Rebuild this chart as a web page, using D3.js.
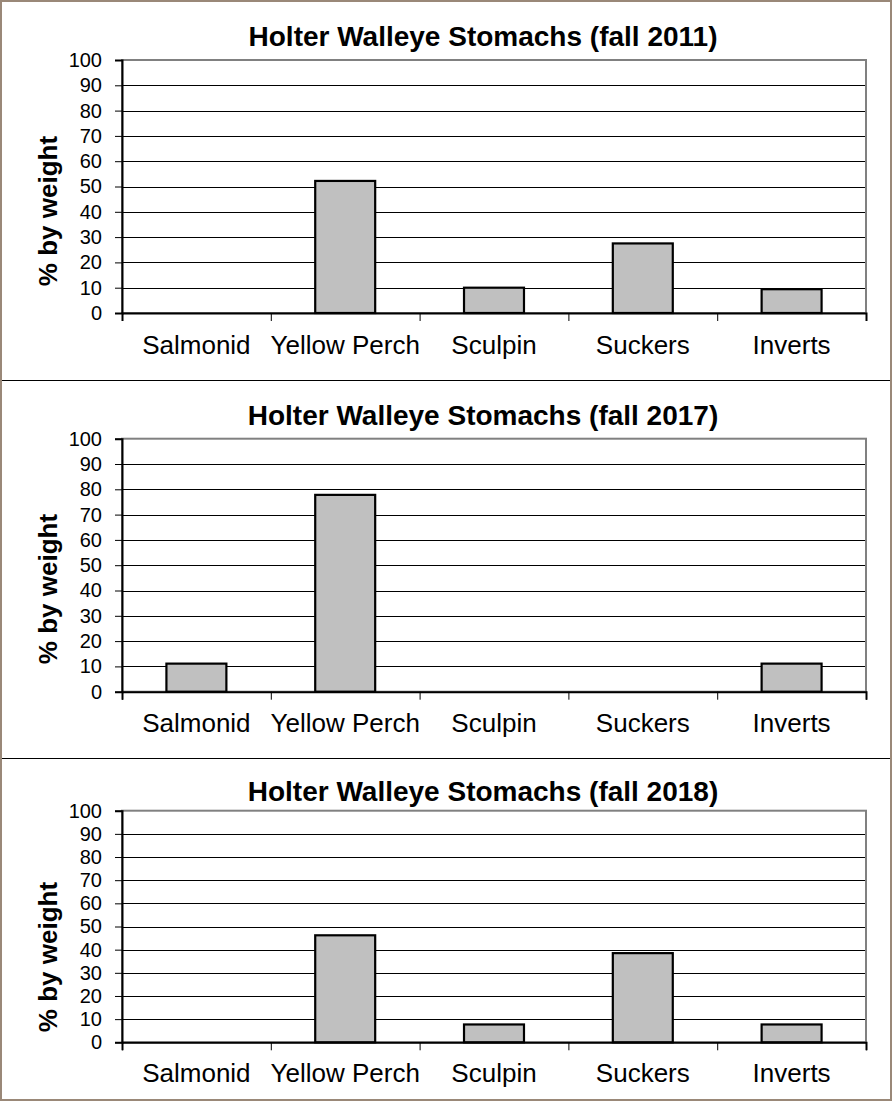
<!DOCTYPE html>
<html>
<head>
<meta charset="utf-8">
<script src="https://cdn.jsdelivr.net/npm/d3@7"></script>
<style>
  body { margin: 0; background: #fff; }
  svg text { font-family: "Liberation Sans", Arial, sans-serif; fill: #000; }
</style>
</head>
<body>
<script>
// data
var categories = ["Salmonid", "Yellow Perch", "Sculpin", "Suckers", "Inverts"]
var titles = ["Holter Walleye Stomachs (fall 2011)", "Holter Walleye Stomachs (fall 2017)", "Holter Walleye Stomachs (fall 2018)"]
var values2011 = [0, 52.2, 10.0, 27.5, 9.4]
var values2017 = [11.1, 77.8, 0, 0, 11.1]
var values2018 = [0, 46.2, 7.7, 38.5, 7.7]
var yTicks = [0, 10, 20, 30, 40, 50, 60, 70, 80, 90, 100]
var yTitle = "% by weight"

var width = 892, height = 1101

// each panel has its own vertical layout (last one is shorter)
var panels = [
    {title: titles[0], values: values2011, titleY: 46, top: 60, bottom: 313, labelY: 354, yTitleC: 211},
    {title: titles[1], values: values2017, titleY: 425, top: 438.7, bottom: 691.7, labelY: 731.7, yTitleC: 589},
    {title: titles[2], values: values2018, titleY: 800.7, top: 810.7, bottom: 1042.3, labelY: 1082.3, yTitleC: 957}
]
var left = 122, right = 866

var svg = d3.select("body").append("svg")
    .attr("width", width)
    .attr("height", height)

var xBand = d3.scaleBand().domain(categories).range([left, right])
    .paddingInner(0.597).paddingOuter(0.2985)
var xTick = d3.scaleLinear().domain([0, categories.length]).range([left, right])

panels.forEach(function(p) {
    var y = d3.scaleLinear().domain([0, 100]).range([p.bottom, p.top])
    var g = svg.append("g")

    // gridlines
    g.selectAll(".grid").data(yTicks.filter(function(d){ return d > 0 && d < 100 }))
        .enter().append("line")
        .attr("x1", left).attr("x2", right)
        .attr("y1", function(d){ return Math.round(y(d)) + 0.5 })
        .attr("y2", function(d){ return Math.round(y(d)) + 0.5 })
        .attr("stroke", "#000")
        .attr("stroke-width", 1)

    // plot area border
    g.append("rect")
        .attr("x", left).attr("y", y(100))
        .attr("width", right - left).attr("height", y(0) - y(100))
        .attr("fill", "none")
        .attr("stroke", "#808080")
        .attr("stroke-width", 2)

    // bars
    g.selectAll(".bar").data(p.values.map(function(v, i){ return {c: categories[i], v: v} })
            .filter(function(d){ return d.v > 0 }))
        .enter().append("rect")
        .attr("x", function(d){ return xBand(d.c) })
        .attr("y", function(d){ return y(d.v) })
        .attr("width", xBand.bandwidth())
        .attr("height", function(d){ return y(0) - y(d.v) })
        .attr("fill", "#c0c0c0")
        .attr("stroke", "#000")
        .attr("stroke-width", 2.2)

    // y axis
    var yAxis = d3.axisLeft(y).tickValues(yTicks).tickSize(7).tickPadding(13)
    var ya = g.append("g").attr("transform", "translate(" + left + ",0)").call(yAxis)
    ya.select(".domain").attr("stroke", "#000").attr("stroke-width", 2)
    ya.selectAll(".tick line").attr("stroke", "#000")
    ya.selectAll("text").style("font-size", "20px").attr("fill", "#000")

    // x axis ticks between categories
    var xAxis = d3.axisBottom(xTick).ticks(5).tickSize(8).tickFormat("")
    var xa = g.append("g").attr("transform", "translate(0," + p.bottom + ")").call(xAxis)
    xa.select(".domain").attr("stroke", "#000").attr("stroke-width", 2)
    xa.selectAll(".tick line").attr("stroke", "#000")

    // category labels
    g.selectAll(".cat").data(categories)
        .enter().append("text")
        .attr("x", function(d){ return xBand(d) + xBand.bandwidth() / 2 })
        .attr("y", p.labelY)
        .attr("text-anchor", "middle")
        .style("font-size", "26px")
        .text(function(d){ return d })

    // title
    g.append("text")
        .attr("x", 483).attr("y", p.titleY)
        .attr("text-anchor", "middle")
        .style("font-size", "28px")
        .style("font-weight", "bold")
        .text(p.title)

    // y axis title
    g.append("text")
        .attr("transform", "translate(57," + p.yTitleC + ") rotate(-90)")
        .attr("text-anchor", "middle")
        .style("font-size", "26px")
        .style("font-weight", "bold")
        .text(yTitle)
})

// panel separators and outer frame
svg.selectAll(".sep").data([380.5, 758.5])
    .enter().append("line")
    .attr("x1", 2).attr("x2", width - 1)
    .attr("y1", function(d){ return d }).attr("y2", function(d){ return d })
    .attr("stroke", "#000")
svg.append("rect")
    .attr("x", 1).attr("y", 1)
    .attr("width", width - 2).attr("height", height - 2)
    .attr("fill", "none")
    .attr("stroke", "#9a8878")
    .attr("stroke-width", 2)
</script>
</body>
</html>
